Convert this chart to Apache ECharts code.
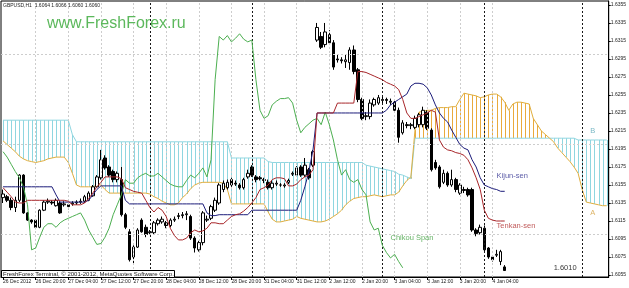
<!DOCTYPE html>
<html><head><meta charset="utf-8">
<script src="https://cdn.jsdelivr.net/npm/echarts@6/dist/echarts.min.js"></script>
<style>html,body{margin:0;padding:0;background:#fff}#c{width:629px;height:288px}</style>
</head><body><div id="c"></div>
<script>
// ---------- DATA ----------
const symbol = 'GBPUSD,H1';
const lastOHLC = [1.6064, 1.6066, 1.6060, 1.6060];
const lastPrice = 1.6060;
const timeLabels = ['26 Dec 2012','26 Dec 20:00','27 Dec 04:00','27 Dec 12:00','27 Dec 20:00','28 Dec 04:00','28 Dec 12:00','28 Dec 20:00','31 Dec 04:00','31 Dec 12:00','2 Jan 12:00','2 Jan 20:00','3 Jan 04:00','3 Jan 12:00','3 Jan 20:00','4 Jan 04:00'];
const yTicks = [1.6055,1.6075,1.6095,1.6115,1.6135,1.6155,1.6175,1.6195,1.6215,1.6235,1.6255,1.6275,1.6295,1.6315,1.6335,1.6355];
const separatorBars = [36, 61, 93, 118, 142];
// [open, close, low, high]
const candles = [
[1.6141,1.6145,1.6135,1.6150],[1.6142,1.6138,1.6136,1.6144],[1.6138,1.6130,1.6127,1.6141],[1.6130,1.6138,1.6125,1.6142],[1.6138,1.6166,1.6136,1.6167],
[1.6166,1.6124,1.6123,1.6167],[1.6124,1.6116,1.6115,1.6125],[1.6116,1.6114,1.6112,1.6117],[1.6116,1.6108,1.6106,1.6117],[1.6108,1.6127,1.6107,1.6128],
[1.6127,1.6136,1.6126,1.6138],[1.6136,1.6137,1.6134,1.6140],[1.6136,1.6135,1.6133,1.6138],[1.6132,1.6138,1.6131,1.6140],[1.6135,1.6124,1.6123,1.6137],
[1.6133,1.6134,1.6131,1.6137],[1.6133,1.6131,1.6128,1.6135],[1.6134,1.6135,1.6132,1.6137],[1.6135,1.6136,1.6133,1.6138],[1.6136,1.6137,1.6134,1.6140],
[1.6137,1.6142,1.6135,1.6144],[1.6138,1.6146,1.6137,1.6148],[1.6143,1.6153,1.6142,1.6155],[1.6153,1.6164,1.6152,1.6166],[1.6163,1.6183,1.6161,1.6194],
[1.6185,1.6174,1.6172,1.6188],[1.6175,1.6166,1.6164,1.6177],[1.6170,1.6161,1.6158,1.6172],[1.6161,1.6168,1.6158,1.6170],[1.6161,1.6122,1.6120,1.6175],
[1.6122,1.6108,1.6106,1.6124],[1.6103,1.6072,1.6070,1.6106],[1.6075,1.6086,1.6068,1.6088],[1.6086,1.6105,1.6085,1.6107],[1.6116,1.6103,1.6102,1.6118],
[1.6108,1.6100,1.6097,1.6111],[1.6102,1.6103,1.6100,1.6105],[1.6102,1.6113,1.6100,1.6115],[1.6112,1.6116,1.6110,1.6118],[1.6114,1.6117,1.6112,1.6120],
[1.6113,1.6110,1.6107,1.6115],[1.6110,1.6116,1.6108,1.6118],[1.6116,1.6117,1.6114,1.6120],[1.6120,1.6121,1.6117,1.6124],[1.6121,1.6122,1.6118,1.6125],
[1.6122,1.6123,1.6116,1.6126],[1.6120,1.6096,1.6094,1.6122],[1.6096,1.6085,1.6080,1.6098],[1.6083,1.6091,1.6081,1.6093],[1.6091,1.6124,1.6088,1.6126],
[1.6116,1.6117,1.6114,1.6121],[1.6118,1.6131,1.6116,1.6133],[1.6127,1.6138,1.6125,1.6141],[1.6135,1.6155,1.6133,1.6157],[1.6150,1.6157,1.6147,1.6160],
[1.6152,1.6158,1.6150,1.6161],[1.6161,1.6155,1.6153,1.6163],[1.6157,1.6156,1.6154,1.6160],[1.6155,1.6152,1.6150,1.6157],[1.6152,1.6161,1.6150,1.6163],
[1.6164,1.6168,1.6162,1.6172],[1.6175,1.6166,1.6164,1.6177],[1.6164,1.6161,1.6158,1.6166],[1.6163,1.6162,1.6160,1.6165],[1.6161,1.6160,1.6157,1.6163],
[1.6158,1.6152,1.6150,1.6161],[1.6152,1.6157,1.6150,1.6160],[1.6156,1.6157,1.6154,1.6160],[1.6155,1.6155,1.6153,1.6157],[1.6154,1.6155,1.6152,1.6157],
[1.6158,1.6160,1.6156,1.6162],[1.6167,1.6168,1.6165,1.6170],[1.6166,1.6174,1.6164,1.6176],[1.6175,1.6166,1.6164,1.6177],[1.6166,1.6177,1.6164,1.6185],
[1.6172,1.6163,1.6161,1.6174],[1.6177,1.6192,1.6175,1.6194],[1.6316,1.6330,1.6314,1.6335],[1.6320,1.6308,1.6306,1.6325],[1.6311,1.6325,1.6308,1.6335],
[1.6322,1.6313,1.6311,1.6327],[1.6313,1.6286,1.6283,1.6316],[1.6295,1.6294,1.6291,1.6300],[1.6294,1.6293,1.6290,1.6297],[1.6292,1.6294,1.6285,1.6300],
[1.6291,1.6305,1.6283,1.6308],[1.6305,1.6281,1.6278,1.6310],[1.6283,1.6250,1.6247,1.6285],[1.6250,1.6229,1.6227,1.6252],[1.6231,1.6232,1.6227,1.6236],
[1.6231,1.6246,1.6228,1.6250],[1.6244,1.6250,1.6242,1.6252],[1.6246,1.6252,1.6244,1.6255],[1.6250,1.6249,1.6246,1.6253],[1.6250,1.6249,1.6245,1.6252],
[1.6247,1.6248,1.6244,1.6251],[1.6247,1.6238,1.6236,1.6250],[1.6238,1.6208,1.6202,1.6241],[1.6213,1.6224,1.6211,1.6227],[1.6222,1.6221,1.6218,1.6225],
[1.6221,1.6222,1.6217,1.6224],[1.6219,1.6229,1.6217,1.6232],[1.6222,1.6233,1.6219,1.6235],[1.6222,1.6238,1.6219,1.6242],[1.6236,1.6218,1.6216,1.6238],
[1.6216,1.6172,1.6170,1.6218],[1.6180,1.6174,1.6172,1.6183],[1.6175,1.6153,1.6151,1.6177],[1.6158,1.6168,1.6156,1.6172],[1.6168,1.6155,1.6153,1.6170],
[1.6155,1.6161,1.6153,1.6172],[1.6161,1.6150,1.6147,1.6163],[1.6146,1.6155,1.6144,1.6157],[1.6150,1.6149,1.6146,1.6153],[1.6150,1.6144,1.6142,1.6152],
[1.6150,1.6105,1.6103,1.6152],[1.6105,1.6101,1.6098,1.6107],[1.6102,1.6108,1.6100,1.6111],[1.6107,1.6083,1.6081,1.6110],[1.6085,1.6075,1.6073,1.6086],
[1.6075,1.6072,1.6070,1.6077],[1.6077,1.6078,1.6075,1.6083],[1.6070,1.6081,1.6066,1.6083],[1.6064,1.6060,1.6060,1.6066]
];
const tenkan = [
1.6152,1.6147,1.6142,1.6136,1.6135,1.6135,1.6138,1.6138,1.6138,1.6138,
1.6138,1.6138,1.6138,1.6138,1.6138,1.6138,1.6137,1.6133,1.6133,1.6133,
1.6135,1.6140,1.6146,1.6153,1.6158,1.6164,1.6164,1.6164,1.6164,1.6162,
1.6152,1.6150,1.6148,1.6147,1.6146,1.6138,1.6130,1.6125,1.6130,1.6127,
1.6120,1.6107,1.6099,1.6094,1.6094,1.6096,1.6102,1.6105,1.6103,1.6104,
1.6107,1.6113,1.6113,1.6112,1.6112,1.6116,1.6120,1.6122,1.6123,1.6126,
1.6130,1.6135,1.6141,1.6150,1.6152,1.6155,1.6161,1.6163,1.6163,1.6162,
1.6154,1.6154,1.6156,1.6161,1.6164,1.6166,1.6172,1.6235,1.6235,1.6235,
1.6235,1.6235,1.6246,1.6246,1.6246,1.6246,1.6246,1.6281,1.6281,1.6280,
1.6278,1.6276,1.6274,1.6272,1.6269,1.6267,1.6265,1.6261,1.6250,1.6235,
1.6229,1.6229,1.6231,1.6233,1.6235,1.6238,1.6236,1.6205,1.6197,1.6194,
1.6193,1.6191,1.6190,1.6188,1.6183,1.6174,1.6163,1.6150,1.6127,1.6118,
1.6116,1.6115,1.6115,1.6115];
const kijun = [
1.6153,1.6153,1.6153,1.6153,1.6153,1.6153,1.6153,1.6153,1.6153,1.6153,
1.6153,1.6153,1.6153,1.6144,1.6136,1.6136,1.6136,1.6136,1.6136,1.6136,
1.6136,1.6138,1.6144,1.6150,1.6154,1.6154,1.6154,1.6154,1.6154,1.6154,
1.6138,1.6134,1.6134,1.6134,1.6134,1.6134,1.6134,1.6134,1.6134,1.6134,
1.6134,1.6134,1.6134,1.6134,1.6134,1.6134,1.6134,1.6134,1.6134,1.6134,
1.6124,1.6121,1.6121,1.6122,1.6122,1.6122,1.6122,1.6122,1.6122,1.6122,
1.6122,1.6127,1.6127,1.6127,1.6127,1.6127,1.6127,1.6127,1.6127,1.6127,
1.6127,1.6127,1.6127,1.6138,1.6153,1.6170,1.6194,1.6235,1.6235,1.6235,
1.6235,1.6235,1.6235,1.6235,1.6235,1.6235,1.6235,1.6235,1.6235,1.6235,
1.6235,1.6235,1.6235,1.6235,1.6238,1.6244,1.6247,1.6250,1.6253,1.6256,
1.6265,1.6268,1.6268,1.6267,1.6263,1.6255,1.6244,1.6235,1.6229,1.6225,
1.6216,1.6208,1.6200,1.6196,1.6194,1.6183,1.6175,1.6163,1.6155,1.6153,
1.6151,1.6150,1.6148,1.6148];
const spanA = [
1.6204,1.6200,1.6196,1.6192,1.6187,1.6184,1.6182,1.6181,1.6180,1.6181,
1.6182,1.6184,1.6185,1.6186,1.6186,1.6186,1.6180,1.6168,1.6155,1.6153,
1.6153,1.6153,1.6153,1.6155,1.6155,1.6150,1.6146,1.6146,1.6146,1.6146,
1.6146,1.6146,1.6146,1.6146,1.6146,1.6146,1.6145,1.6142,1.6140,1.6137,
1.6135,1.6133,1.6133,1.6135,1.6141,1.6145,1.6151,1.6155,1.6157,1.6158,
1.6158,1.6158,1.6158,1.6158,1.6157,1.6150,1.6134,1.6134,1.6134,1.6134,
1.6134,1.6134,1.6134,1.6134,1.6134,1.6125,1.6117,1.6114,1.6114,1.6115,
1.6116,1.6117,1.6120,1.6118,1.6117,1.6116,1.6115,1.6114,1.6114,1.6115,
1.6117,1.6120,1.6123,1.6127,1.6133,1.6137,1.6140,1.6141,1.6142,1.6142,
1.6143,1.6144,1.6143,1.6142,1.6143,1.6144,1.6144,1.6147,1.6154,1.6160,
1.6164,1.6216,1.6236,1.6237,1.6238,1.6238,1.6240,1.6241,1.6241,1.6241,
1.6242,1.6242,1.6250,1.6257,1.6256,1.6255,1.6254,1.6252,1.6253,1.6255,
1.6256,1.6256,1.6253,1.6247,1.6238,1.6245,1.6247,1.6247,1.6246,1.6245,
1.6229,1.6222,1.6215,1.6211,1.6207,1.6203,1.6196,1.6191,1.6186,1.6181,
1.6175,1.6168,1.6150,1.6136,1.6135,1.6134,1.6133,1.6132,1.6132];
const spanB = [
1.6227,1.6227,1.6227,1.6227,1.6227,1.6227,1.6227,1.6227,1.6227,1.6227,
1.6227,1.6227,1.6227,1.6227,1.6227,1.6227,1.6227,1.6211,1.6203,1.6203,
1.6203,1.6203,1.6203,1.6203,1.6203,1.6203,1.6203,1.6203,1.6203,1.6203,
1.6203,1.6203,1.6203,1.6203,1.6203,1.6203,1.6203,1.6203,1.6203,1.6203,
1.6203,1.6203,1.6203,1.6203,1.6203,1.6203,1.6203,1.6203,1.6203,1.6203,
1.6203,1.6203,1.6203,1.6203,1.6203,1.6203,1.6185,1.6185,1.6185,1.6185,
1.6185,1.6185,1.6185,1.6185,1.6185,1.6181,1.6180,1.6180,1.6180,1.6180,
1.6180,1.6180,1.6180,1.6180,1.6180,1.6180,1.6180,1.6180,1.6180,1.6180,
1.6180,1.6180,1.6180,1.6180,1.6180,1.6180,1.6180,1.6180,1.6180,1.6177,
1.6176,1.6175,1.6174,1.6173,1.6172,1.6171,1.6170,1.6167,1.6166,1.6164,
1.6162,1.6207,1.6207,1.6207,1.6207,1.6207,1.6207,1.6207,1.6207,1.6207,
1.6207,1.6207,1.6207,1.6207,1.6207,1.6207,1.6207,1.6207,1.6207,1.6207,
1.6207,1.6207,1.6207,1.6207,1.6207,1.6207,1.6207,1.6207,1.6207,1.6207,
1.6207,1.6207,1.6207,1.6207,1.6207,1.6207,1.6207,1.6207,1.6207,1.6207,
1.6207,1.6205,1.6205,1.6205,1.6205,1.6205,1.6205,1.6205,1.6205];
const chikou = [
1.6192,1.6186,1.6178,1.6170,1.6163,1.6153,1.6133,1.6083,1.6085,1.6097,
1.6108,1.6112,1.6112,1.6108,1.6113,1.6116,1.6118,1.6120,1.6122,1.6124,
1.6116,1.6105,1.6097,1.6089,1.6090,1.6097,1.6107,1.6122,1.6133,1.6144,
1.6161,1.6157,1.6157,1.6163,1.6166,1.6168,1.6165,1.6165,1.6168,1.6164,
1.6160,1.6156,1.6154,1.6153,1.6153,1.6160,1.6166,1.6163,1.6168,1.6174,
1.6164,1.6183,1.6272,1.6320,1.6316,1.6321,1.6314,1.6318,1.6323,1.6317,
1.6314,1.6316,1.6272,1.6238,1.6229,1.6232,1.6244,1.6248,1.6251,1.6251,
1.6252,1.6246,1.6227,1.6213,1.6219,1.6223,1.6227,1.6229,1.6222,1.6236,
1.6222,1.6205,1.6183,1.6166,1.6172,1.6161,1.6158,1.6161,1.6150,1.6144,
1.6114,1.6105,1.6107,1.6088,1.6080,1.6074,1.6078,1.6070,1.6063];

// ---------- CHART ----------
const N = spanA.length;
const cats = [];
for (let i = 0; i < N; i++) cats.push(String(i));
const labelEvery = 8;
const showTick = (idx) => idx % labelEvery === 0 && idx / labelEvery < timeLabels.length;
const FONT = 'Liberation Sans';
const CLOUD_UP = '#e9aa3c';   // Senkou A above B
const CLOUD_DN = '#8fd6e0';   // Senkou B above A

const vGrid = [];
timeLabels.forEach((t, k) => { if (k > 0) vGrid.push({ xAxis: k * labelEvery, lineStyle: { color: '#cdcdcd', type: [2, 2], width: 1 } }); });
const gridLines = yTicks.map(v => ({ yAxis: v, lineStyle: { color: '#cdcdcd', type: [2, 2], width: 1 } }))
  .concat(vGrid)
  .concat(separatorBars.map(i => ({ xAxis: i, lineStyle: { color: '#1a1a1a', type: [2, 2], width: 1 } })));

const chart = echarts.init(document.getElementById('c'), null, { renderer: 'canvas' });
chart.setOption({
  animation: false,
  backgroundColor: '#fff',
  grid: { left: 1, right: 19, top: 1, bottom: 11, show: true, borderColor: '#000', borderWidth: 1, backgroundColor: '#fff' },
  xAxis: {
    type: 'category', data: cats, boundaryGap: true,
    axisLine: { show: true, lineStyle: { color: '#000' } },
    axisTick: { show: true, alignWithLabel: true, interval: (i) => showTick(i), length: 3, lineStyle: { color: '#000' } },
    axisLabel: { interval: (i) => showTick(i), formatter: (v, i) => timeLabels[i / labelEvery], align: 'left',
      fontSize: 5, fontFamily: FONT, color: '#222', margin: 2 },
    splitLine: { show: false }
  },
  yAxis: {
    type: 'value', position: 'right', min: 1.60528, max: 1.63594, scale: true,
    axisLine: { show: true, lineStyle: { color: '#000' } },
    axisTick: { show: true, length: 2, customValues: yTicks, lineStyle: { color: '#000' } },
    axisLabel: { customValues: yTicks, formatter: (v) => v.toFixed(4), fontSize: 5, fontFamily: FONT, color: '#222', margin: 2 },
    splitLine: { show: false }
  },
  graphic: [
    { type: 'text', left: 3, top: 3, z: 100, style: { text: symbol + '  ' + lastOHLC.map(v => v.toFixed(4)).join(' '), font: '5px "Liberation Sans"', fill: '#222' } },
    { type: 'text', left: 47, top: 16, z: 100, style: { text: 'www.FreshForex.ru', font: '16px "Liberation Sans"', fill: '#5cb85c' } },
    { type: 'rect', left: 1, top: 270, z: 100, shape: { width: 173, height: 7 }, style: { fill: '#fff', stroke: '#000', lineWidth: 1 } },
    { type: 'text', left: 3, top: 271, z: 101, style: { text: 'FreshForex Terminal, \u00a9 2001-2012, MetaQuotes Software Corp.', font: '6px "Liberation Sans"', fill: '#222' } }
  ],
  series: [
    { type: 'line', name: 'grid', data: [], z: 1, silent: true,
      markLine: { symbol: 'none', silent: true, animation: false, label: { show: false }, data: gridLines } },
    { type: 'custom', name: 'cloud', z: 2, silent: true,
      renderItem: (params, api) => {
        const i = params.dataIndex;
        const a = spanA[i], b = spanB[i];
        const p1 = api.coord([i, a]), p2 = api.coord([i, b]);
        const x = Math.round(p1[0]) + 0.5;
        return { type: 'line', shape: { x1: x, y1: p1[1], x2: x, y2: p2[1] },
          style: { stroke: a > b ? CLOUD_UP : CLOUD_DN, lineWidth: 1, fill: null } };
      },
      data: spanA.map((a, i) => [i, a]) },
    { type: 'line', name: 'Senkou B', data: spanB, symbol: 'none', z: 3, lineStyle: { color: CLOUD_DN, width: 1 } },
    { type: 'line', name: 'Senkou A', data: spanA, symbol: 'none', z: 3, lineStyle: { color: '#e0ae3e', width: 1 } },
    { type: 'candlestick', name: 'GBPUSD', data: candles, barWidth: 3, z: 4,
      itemStyle: { color: '#fff', color0: '#000', borderColor: '#000', borderColor0: '#000', borderWidth: 1 },
      markLine: { symbol: 'none', silent: true, animation: false,
        data: [{ yAxis: lastPrice, lineStyle: { opacity: 0 },
          label: { show: true, position: 'end', distance: 1, formatter: lastPrice.toFixed(4), color: '#fff', backgroundColor: '#000',
            fontSize: 5, fontFamily: FONT, padding: [1, 1, 1, 1] } }] } },
    { type: 'line', name: 'Chikou Span', data: chikou, symbol: 'none', z: 5, lineStyle: { color: '#4caf50', width: 1 } },
    { type: 'line', name: 'Kijun-sen', data: kijun, symbol: 'none', z: 5, lineStyle: { color: '#1c1c7a', width: 1 } },
    { type: 'line', name: 'Tenkan-sen', data: tenkan, symbol: 'none', z: 5, lineStyle: { color: '#a8262a', width: 1 } },
    { type: 'scatter', name: 'notes', symbolSize: 0, z: 6, silent: true,
      label: { show: true, position: 'right', distance: 0, fontSize: 7.5, fontFamily: FONT, formatter: (p) => p.data.name },
      data: [
        { name: 'Kijun-sen', value: [121, 1.6165], label: { color: '#303090' } },
        { name: 'Tenkan-sen', value: [121, 1.6109], label: { color: '#b03030' } },
        { name: 'Chikou Span', value: [95, 1.6096], label: { color: '#40a040' } },
        { name: 'A', value: [144, 1.6124], label: { color: '#d4a040' } },
        { name: 'B', value: [144, 1.6215], label: { color: '#5aa8b8' } },
        { name: '1.6010', value: [135, 1.6063], label: { color: '#000' } }
      ] }
  ]
});
</script>
</body></html>
